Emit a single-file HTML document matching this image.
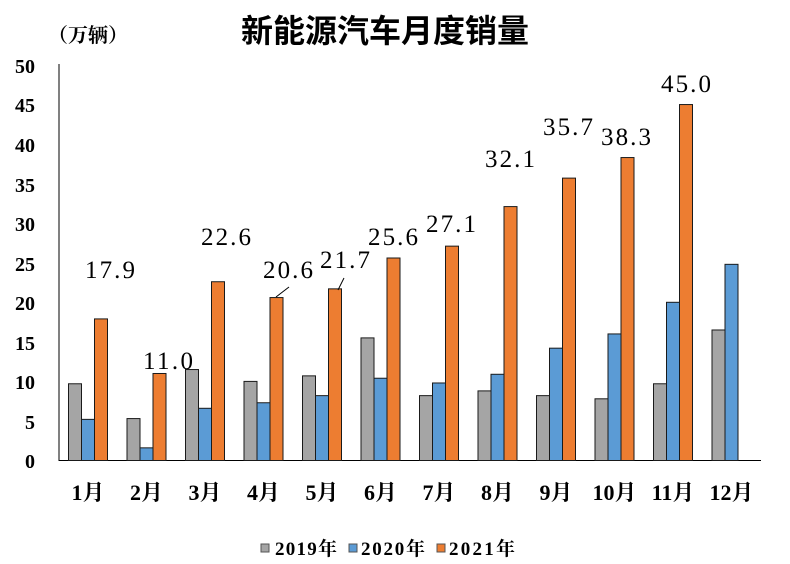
<!DOCTYPE html>
<html><head><meta charset="utf-8"><style>
html,body{margin:0;padding:0;background:#fff;}
svg{display:block;}
text{font-family:"Liberation Serif","Noto Serif CJK SC",serif;fill:#000;}
</style></head><body>
<svg width="790" height="564" xmlns="http://www.w3.org/2000/svg">
<text x="385" y="42" text-anchor="middle" font-size="32" font-weight="bold" style="font-family:'Liberation Sans','Noto Sans CJK SC',sans-serif">新能源汽车月度销量</text>
<text x="48" y="42" font-size="20" font-weight="bold" style="font-family:'Liberation Serif','Noto Serif CJK SC',serif">（万辆）</text>
<g font-size="20" font-weight="bold" text-anchor="end">
<text x="35" y="468">0</text><text x="35" y="429">5</text><text x="35" y="389">10</text><text x="35" y="350">15</text><text x="35" y="310">20</text><text x="35" y="271">25</text><text x="35" y="231">30</text><text x="35" y="192">35</text><text x="35" y="152">40</text><text x="35" y="112">45</text><text x="35" y="73">50</text>
</g>
<line x1="59" y1="64" x2="59" y2="461" stroke="#000" stroke-width="1"/>
<line x1="59" y1="460.5" x2="761" y2="460.5" stroke="#000" stroke-width="1"/>
<g id="bars" stroke="#1a1a1a" stroke-width="1"></g>
<g id="xl" font-size="22" font-weight="bold" text-anchor="middle"></g>
<g id="lb" font-size="25" text-anchor="middle"></g>
<line x1="276" y1="297" x2="289" y2="287" stroke="#000"/>
<line x1="338" y1="290" x2="344" y2="278" stroke="#000"/>
<g font-size="19" font-weight="bold">
<rect x="261" y="544" width="8" height="8" fill="#a5a5a5" stroke="#555"/><text x="275" y="555" textLength="62">2019年</text>
<rect x="349" y="544" width="8" height="8" fill="#5b9bd5" stroke="#555"/><text x="361" y="555" textLength="64">2020年</text>
<rect x="437" y="544" width="8" height="8" fill="#ed7d31" stroke="#555"/><text x="449" y="555" textLength="66">2021年</text>
</g>
<script>
var a=[9.7,5.3,11.5,10.0,10.7,15.5,8.2,8.8,8.2,7.8,9.7,16.5],
b=[5.2,1.6,6.6,7.3,8.2,10.4,9.8,10.9,14.2,16.0,20.0,24.8],
c=[17.9,11.0,22.6,20.6,21.7,25.6,27.1,32.1,35.7,38.3,45.0,null];
var lab=[[110,278],[168,369],[226,245],[288,278],[345,268],[393,245],[451,232],[510,167],[568,135],[626,145],[686,92]];
var ns="http://www.w3.org/2000/svg",g=document.getElementById('bars'),xl=document.getElementById('xl'),lb=document.getElementById('lb');
function r(x,v,col){if(v==null)return;var h=v*7.91,e=document.createElementNS(ns,'rect');e.setAttribute('x',x+0.5);e.setAttribute('y',460-h+0.5);e.setAttribute('width',13);e.setAttribute('height',h);e.setAttribute('fill',col);g.appendChild(e);}
for(var i=0;i<12;i++){var x0=59+i*58.5+9;
r(x0,a[i],'#a5a5a5');r(x0+13,b[i],'#5b9bd5');r(x0+26,c[i],'#ed7d31');
var t=document.createElementNS(ns,'text');t.setAttribute('x',59+i*58.5+29);t.setAttribute('y',500);t.textContent=(i+1)+'月';xl.appendChild(t);
if(i<11){var t2=document.createElementNS(ns,'text');t2.setAttribute('x',lab[i][0]);t2.setAttribute('y',lab[i][1]);t2.setAttribute('textLength','50');t2.setAttribute('lengthAdjust','spacing');t2.textContent=c[i].toFixed(1);lb.appendChild(t2);}
}
</script>
</svg>
</body></html>
